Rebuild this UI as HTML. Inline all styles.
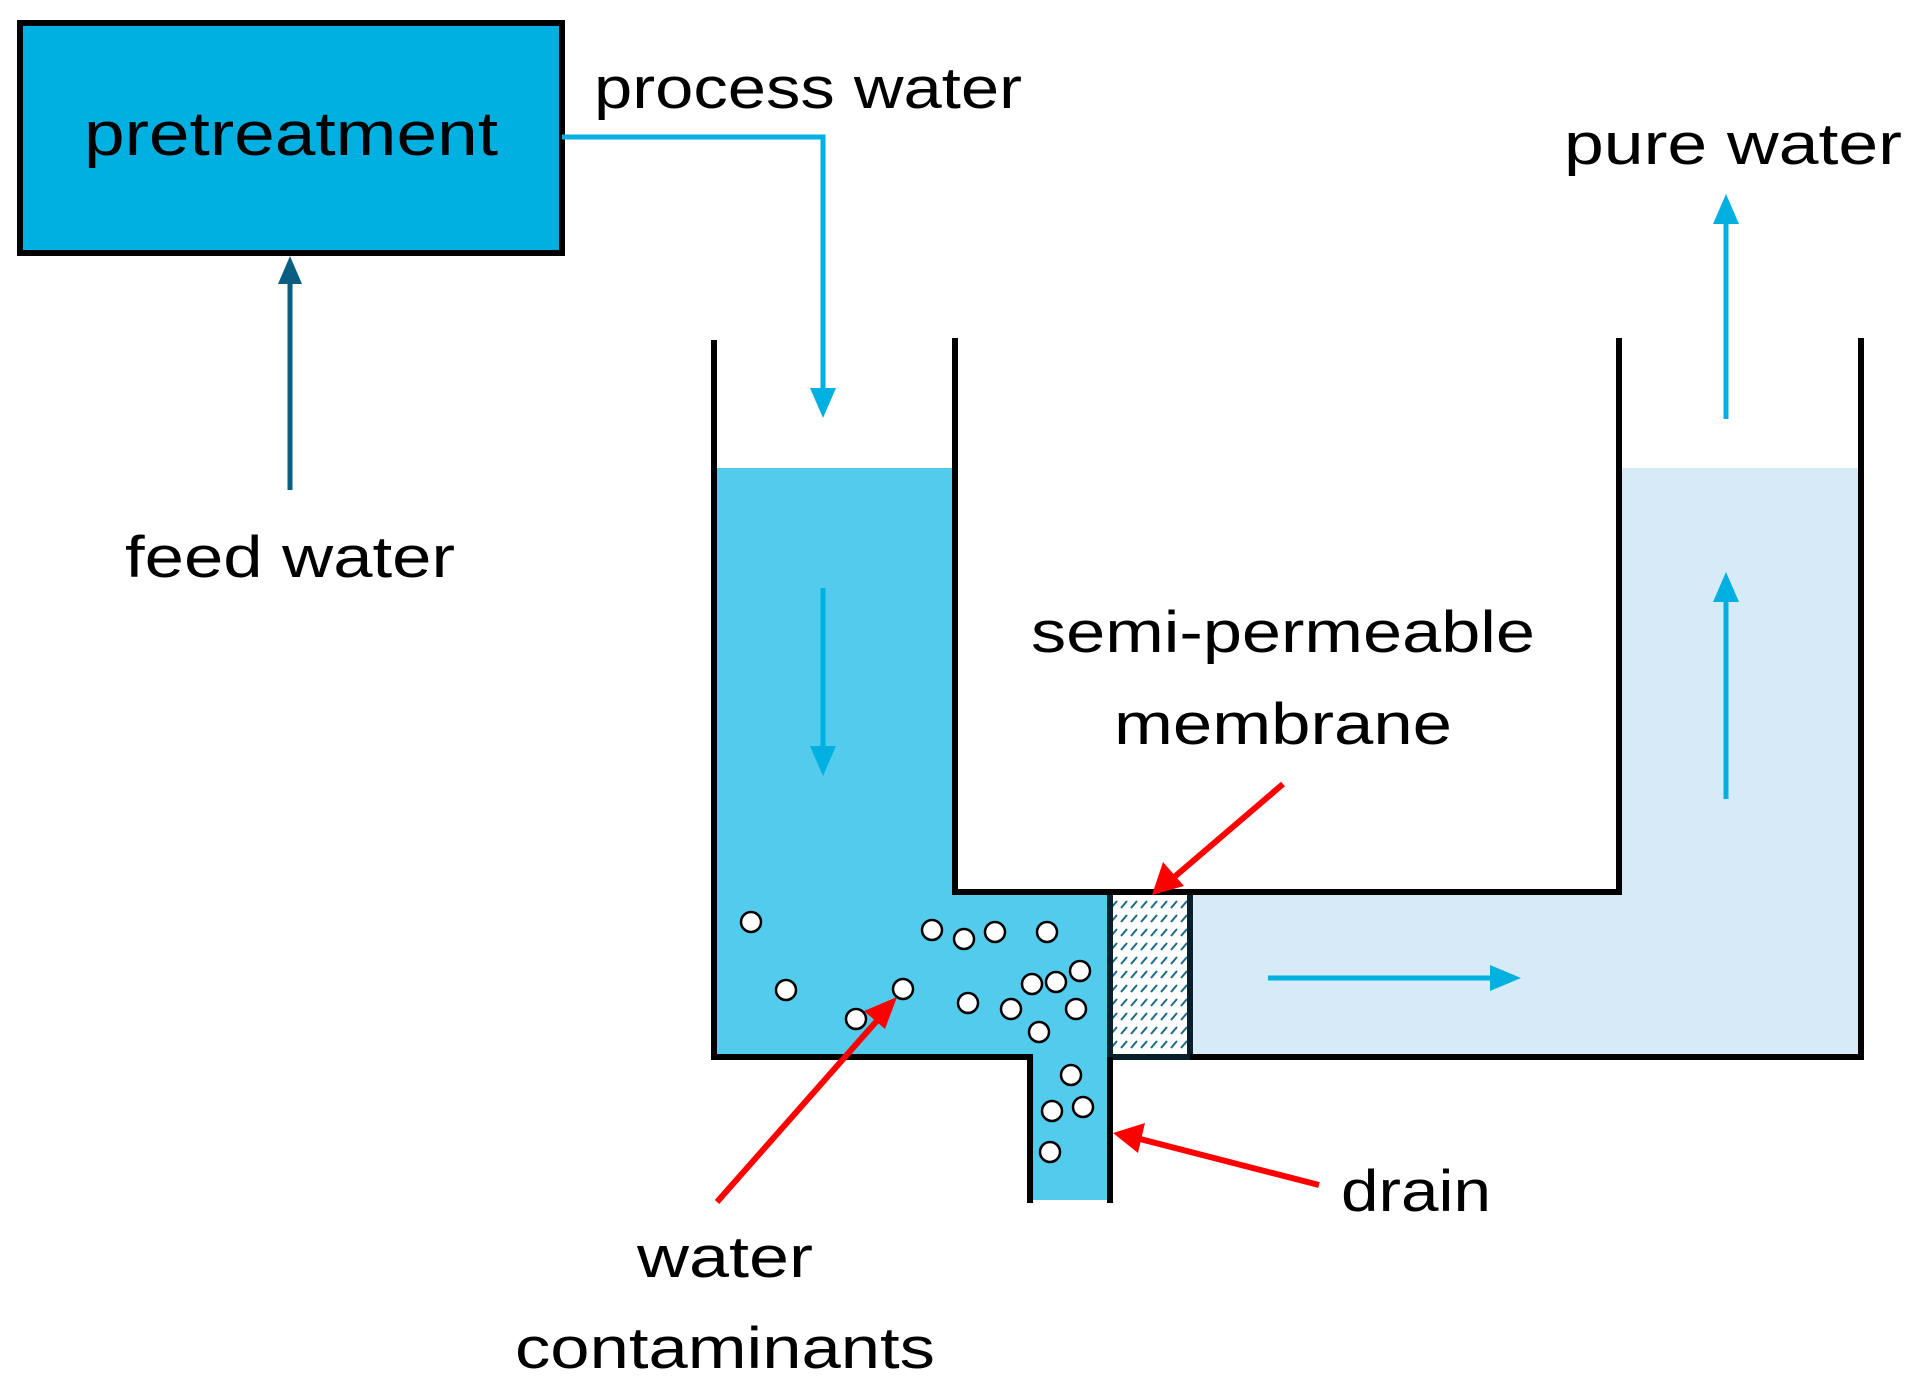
<!DOCTYPE html>
<html><head><style>html,body{margin:0;padding:0;background:#fff}</style></head>
<body>
<svg width="1911" height="1379" viewBox="0 0 1911 1379" xmlns="http://www.w3.org/2000/svg" font-family="Liberation Sans, sans-serif" font-size="58" fill="#000">
<defs>
<pattern id="hatch" width="10" height="14" patternUnits="userSpaceOnUse">
<line x1="1" y1="12" x2="7" y2="5" stroke="#1a6a88" stroke-width="2"/>
</pattern>
</defs>
<!-- pretreatment box -->
<rect x="20" y="23" width="542" height="230" fill="#00b0e0" stroke="#000" stroke-width="6"/>
<text x="291" y="155" text-anchor="middle" font-size="62" textLength="414" lengthAdjust="spacingAndGlyphs">pretreatment</text>
<!-- feed water arrow -->
<line x1="290" y1="490" x2="290" y2="280" stroke="#0a5f80" stroke-width="5"/>
<polygon points="290,256 278,284 302,284" fill="#0a5f80"/>
<text x="290" y="577" text-anchor="middle" textLength="330" lengthAdjust="spacingAndGlyphs">feed water</text>
<!-- process water -->
<text x="594" y="108" textLength="428" lengthAdjust="spacingAndGlyphs">process water</text>
<polyline points="562,137 823,137 823,392" fill="none" stroke="#00b0e0" stroke-width="5"/>
<polygon points="823,418 810,388 836,388" fill="#00b0e0"/>
<!-- waters -->
<polygon points="714,468 955,468 955,892 1110,892 1110,1057 1110,1200 1030,1200 1030,1057 714,1057" fill="#52cbec"/>
<polygon points="1190,892 1619,892 1619,468 1861,468 1861,1057 1190,1057" fill="#d6eaf8"/>
<!-- membrane -->
<rect x="1110" y="892" width="80" height="165" fill="#fff"/>
<rect x="1110" y="892" width="80" height="165" fill="url(#hatch)"/>
<rect x="1110" y="892" width="80" height="165" fill="none" stroke="#0a1f2c" stroke-width="6"/>
<!-- tank outline -->
<polyline points="714,340 714,1057 1030,1057 1030,1203" fill="none" stroke="#000" stroke-width="6"/>
<polyline points="955,338 955,892 1619,892 1619,338" fill="none" stroke="#000" stroke-width="6"/>
<line x1="1110" y1="1057" x2="1110" y2="1203" stroke="#000" stroke-width="6"/>
<polyline points="1190,1057 1861,1057 1861,338" fill="none" stroke="#000" stroke-width="6"/>
<!-- flow arrows -->
<line x1="823" y1="588" x2="823" y2="750" stroke="#00b0e0" stroke-width="5"/>
<polygon points="823,776 810,746 836,746" fill="#00b0e0"/>
<line x1="1268" y1="978" x2="1495" y2="978" stroke="#00b0e0" stroke-width="5"/>
<polygon points="1521,978 1490,965 1490,991" fill="#00b0e0"/>
<line x1="1726" y1="799" x2="1726" y2="598" stroke="#00b0e0" stroke-width="5"/>
<polygon points="1726,572 1713,602 1739,602" fill="#00b0e0"/>
<line x1="1726" y1="419" x2="1726" y2="220" stroke="#00b0e0" stroke-width="5"/>
<polygon points="1726,194 1713,224 1739,224" fill="#00b0e0"/>
<text x="1564" y="164" textLength="338" lengthAdjust="spacingAndGlyphs">pure water</text>
<text x="1283" y="652" text-anchor="middle" textLength="504" lengthAdjust="spacingAndGlyphs">semi-permeable</text>
<text x="1283" y="744" text-anchor="middle" textLength="338" lengthAdjust="spacingAndGlyphs">membrane</text>
<!-- contaminants -->
<g fill="#fff" stroke="#000" stroke-width="2.5">
<circle cx="751" cy="922" r="10"/><circle cx="786" cy="990" r="10"/><circle cx="856" cy="1019" r="10"/>
<circle cx="903" cy="989" r="10"/><circle cx="932" cy="930" r="10"/><circle cx="964" cy="939" r="10"/>
<circle cx="995" cy="932" r="10"/><circle cx="1047" cy="932" r="10"/><circle cx="1080" cy="971" r="10"/>
<circle cx="1032" cy="984" r="10"/><circle cx="1056" cy="982" r="10"/><circle cx="968" cy="1003" r="10"/>
<circle cx="1011" cy="1009" r="10"/><circle cx="1076" cy="1009" r="10"/><circle cx="1039" cy="1032" r="10"/>
<circle cx="1071" cy="1075" r="10"/><circle cx="1052" cy="1111" r="10"/><circle cx="1083" cy="1107" r="10"/>
<circle cx="1050" cy="1152" r="10"/>
</g>
<!-- red arrows -->
<g stroke="#ff0000" stroke-width="6" fill="#ff0000">
<line x1="1283" y1="784" x2="1172" y2="879"/>
<polygon points="1152,895 1163,862 1184,886" stroke="none"/>
<line x1="1319" y1="1185" x2="1140" y2="1139"/>
<polygon points="1113,1133 1145,1123 1138,1153" stroke="none"/>
<line x1="717" y1="1202" x2="882" y2="1015"/>
<polygon points="897,997 885,1029 864,1011" stroke="none"/>
</g>
<text x="1341" y="1211" textLength="150" lengthAdjust="spacingAndGlyphs">drain</text>
<text x="725" y="1277" text-anchor="middle" textLength="176" lengthAdjust="spacingAndGlyphs">water</text>
<text x="725" y="1368" text-anchor="middle" textLength="420" lengthAdjust="spacingAndGlyphs">contaminants</text>
</svg>
</body></html>
